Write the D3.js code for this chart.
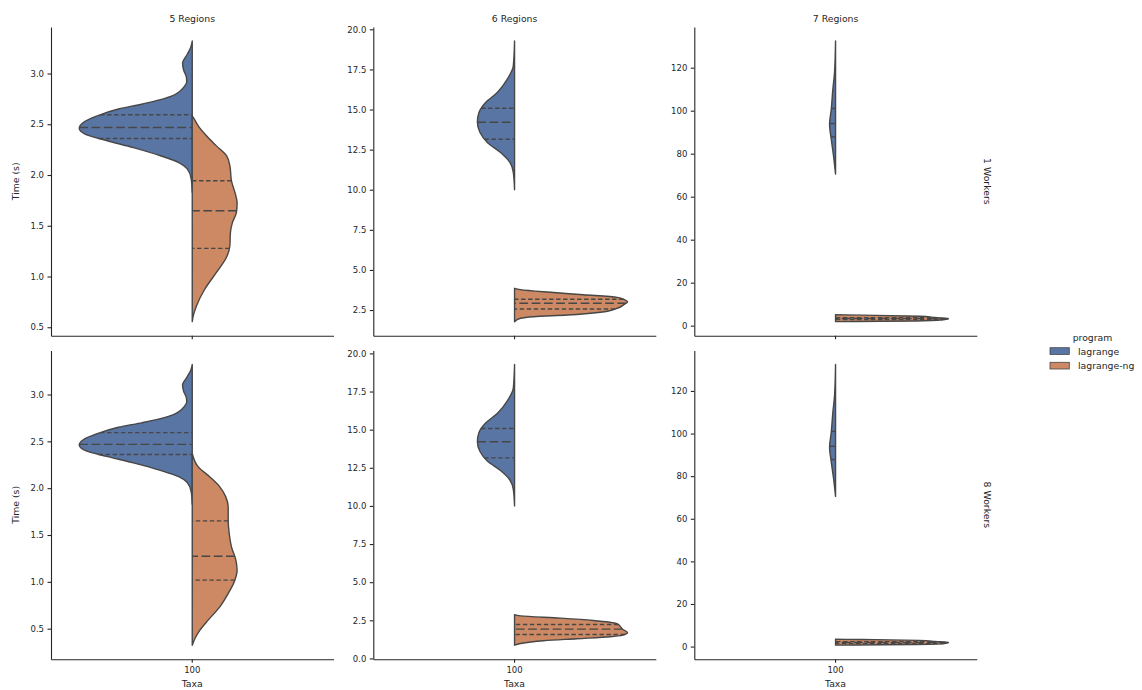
<!DOCTYPE html>
<html>
<head>
<meta charset="utf-8">
<script src="https://cdn.jsdelivr.net/npm/d3@7"></script>
<style>
  body { margin: 0; background: #fff; }
  text { font-family: "DejaVu Sans", sans-serif; fill: #262626; }
</style>
</head>
<body>
<svg id="chart" width="1142" height="690"></svg>
<script>
// Facets and categories
const regions = ["5 Regions", "6 Regions", "7 Regions"];
const workers = ["1 Workers", "8 Workers"];
const taxa = ["100"];
const programs = ["lagrange", "lagrange-ng"];
const programColors = ["#5875a4", "#cc8963"];

// Kernel density profiles: [time (s), density relative to the widest violin]
const lagrange5 = [[3.32,0],[3.26,0.013],[3.19,0.044],[3.10,0.086],[3.03,0.075],[2.97,0.053],[2.92,0.049],[2.87,0.071],[2.82,0.115],[2.78,0.177],[2.74,0.291],[2.70,0.441],[2.65,0.653],[2.58,0.847],[2.52,0.962],[2.46,1.0],[2.40,0.944],[2.34,0.759],[2.27,0.521],[2.19,0.282],[2.12,0.115],[2.06,0.044],[1.96,0.009],[1.83,0]];
const lagrangeNg5w1 = [[2.583,0],[2.55,0.018],[2.484,0.053],[2.386,0.126],[2.287,0.214],[2.19,0.303],[2.09,0.333],[1.943,0.347],[1.795,0.386],[1.73,0.397],[1.632,0.391],[1.533,0.356],[1.435,0.338],[1.303,0.333],[1.189,0.303],[1.04,0.214],[0.877,0.112],[0.713,0.038],[0.614,0.009],[0.555,0]];
const lagrangeNg5w8 = [[2.37,0],[2.227,0.053],[2.12,0.156],[2.014,0.244],[1.907,0.297],[1.80,0.318],[1.658,0.318],[1.516,0.327],[1.374,0.347],[1.232,0.386],[1.125,0.397],[1.018,0.377],[0.876,0.318],[0.733,0.244],[0.591,0.141],[0.484,0.068],[0.395,0.024],[0.324,0]];
const lagrange6 = [[19.27,0],[17.72,0.011],[16.89,0.064],[16.06,0.153],[15.44,0.256],[14.81,0.315],[14.23,0.329],[13.57,0.306],[12.95,0.241],[12.32,0.124],[11.7,0.041],[11.08,0.011],[10.0,0]];
const lagrangeNg6w1 = [[3.855,0],[3.77,0.053],[3.605,0.318],[3.455,0.609],[3.29,0.909],[3.15,0.971],[3.02,1.0],[2.85,0.971],[2.61,0.909],[2.36,0.759],[2.19,0.468],[2.086,0.168],[1.986,0.053],[1.775,0]];
const lagrangeNg6w8 = [[2.87,0],[2.79,0.053],[2.64,0.405],[2.49,0.695],[2.28,0.906],[1.90,0.959],[1.70,1.0],[1.53,0.959],[1.42,0.844],[1.29,0.551],[1.16,0.258],[0.98,0.053],[0.87,0]];
const lagrange7 = [[132.4,0],[117.7,0.009],[109.9,0.024],[100.6,0.038],[93.7,0.053],[86.7,0.038],[79.0,0.018],[70.5,0]];
const lagrangeNg7w1 = [[5.1,0],[5.0,0.088],[4.8,0.353],[4.37,0.741],[3.8,0.883],[3.25,1.0],[2.8,0.953],[2.18,0.706],[1.95,0.177],[1.86,0]];
const lagrangeNg7w8 = [[3.47,0],[3.4,0.088],[3.25,0.353],[2.9,0.741],[2.4,0.883],[1.88,1.0],[1.4,0.953],[0.95,0.706],[0.75,0.177],[0.66,0]];

// Quartiles [Q1, median, Q3]
const quartLagrange5 = [2.36, 2.468, 2.593];
const quartNg5w1 = [1.277, 1.648, 1.943];
const quartNg5w8 = [1.018, 1.274, 1.651];
const quartLagrange6 = [13.15, 14.21, 15.08];
const quartNg6w1 = [2.565, 2.92, 3.17];
const quartNg6w8 = [1.57, 1.92, 2.23];
const quartLagrange7 = [87.8, 94.0, 101.0];
const quartNg7w1 = [2.9, 3.3, 3.7];
const quartNg7w8 = [1.45, 1.9, 2.3];

// Y tick values per column
const yTicks = [
  [0.5, 1.0, 1.5, 2.0, 2.5, 3.0],
  [0.0, 2.5, 5.0, 7.5, 10.0, 12.5, 15.0, 17.5, 20.0],
  [0, 20, 40, 60, 80, 100, 120]
];
const yFormats = [".1f", ".1f", "d"];

// panels[row][col] = [[profile, quartiles] per program]
const panels = [
  [
    [[lagrange5, quartLagrange5], [lagrangeNg5w1, quartNg5w1]],
    [[lagrange6, quartLagrange6], [lagrangeNg6w1, quartNg6w1]],
    [[lagrange7, quartLagrange7], [lagrangeNg7w1, quartNg7w1]]
  ],
  [
    [[lagrange5, quartLagrange5], [lagrangeNg5w8, quartNg5w8]],
    [[lagrange6, quartLagrange6], [lagrangeNg6w8, quartNg6w8]],
    [[lagrange7, quartLagrange7], [lagrangeNg7w8, quartNg7w8]]
  ]
];

// Layout
const colLeft = [51, 373.3, 694.3];
const rowTop = [27, 350.5];
const W = 282.5, H = 308.7;
const lineGray = "#474747";
const axisColor = "#262626";

const svg = d3.select("#chart");

panels.forEach((rowPanels, r) => {
  rowPanels.forEach((series, c) => {
    const g = svg.append("g").attr("transform", `translate(${colLeft[c]},${rowTop[r]})`);

    const x = d3.scaleBand().domain(taxa).range([0, W]).padding(0);
    const center = x(taxa[0]) + x.bandwidth() / 2;
    const half = 0.4 * x.bandwidth();

    const allVals = series.flatMap(s => s[0].map(d => d[0]));
    const lo = d3.min(allVals), hi = d3.max(allVals);
    const pad = (hi - lo) * 0.05;
    const y = d3.scaleLinear().domain([lo - pad, hi + pad]).range([H, 0]);

    series.forEach(([profile, quarts], i) => {
      const side = i === 0 ? -1 : 1;
      const pts = profile.slice().sort((a, b) => b[0] - a[0]);
      const edgeX = d => center + side * half * d[1];

      const area = d3.area()
        .curve(d3.curveMonotoneY)
        .y(d => y(d[0]))
        .x0(center)
        .x1(edgeX);

      g.append("path")
        .attr("d", area(pts))
        .attr("fill", programColors[i])
        .attr("stroke", lineGray)
        .attr("stroke-width", 1.4)
        .attr("stroke-linejoin", "round");

      // sample the outer edge so quartile lines end on the outline
      const edgePath = g.append("path")
        .attr("d", d3.line().curve(d3.curveMonotoneY).x(edgeX).y(d => y(d[0]))(pts))
        .attr("fill", "none").attr("stroke", "none");
      const node = edgePath.node();
      const len = node.getTotalLength();
      const samples = [];
      for (let s = 0; s <= len; s += 0.25) samples.push(node.getPointAtLength(s));
      edgePath.remove();

      quarts.forEach((q, k) => {
        const yq = y(q);
        const nearest = d3.least(samples, p => Math.abs(p.y - yq));
        const xe = nearest ? nearest.x : center;
        g.append("line")
          .attr("x1", xe).attr("x2", center)
          .attr("y1", yq).attr("y2", yq)
          .attr("stroke", lineGray)
          .attr("stroke-width", 1.4)
          .attr("stroke-dasharray", k === 1 ? "8.75,3.5" : "4.4,2.6");
      });
    });

    // axes
    const ticks = yTicks[c].filter(t => t >= y.domain()[0] && t <= y.domain()[1]);
    const yAxis = g.append("g")
      .call(d3.axisLeft(y).tickValues(ticks).tickFormat(d3.format(yFormats[c]))
        .tickSize(3.5).tickSizeOuter(0).tickPadding(3.5));
    const xAxis = g.append("g").attr("transform", `translate(0,${H})`)
      .call(d3.axisBottom(x).tickSize(3.5).tickSizeOuter(0).tickPadding(4)
        .tickFormat(r === 1 ? (d => d) : () => ""));
    [yAxis, xAxis].forEach(a => {
      a.select(".domain").attr("stroke", axisColor).attr("stroke-width", 1.1);
      a.selectAll(".tick line").attr("stroke", axisColor).attr("stroke-width", 1.1);
      a.selectAll(".tick text").attr("font-size", "8.5px")
        .attr("font-family", "DejaVu Sans, sans-serif").attr("fill", "#262626");
    });

    if (r === 0) {
      g.append("text").attr("x", W / 2).attr("y", -5)
        .attr("text-anchor", "middle").attr("font-size", "9.3px").text(regions[c]);
    }
    if (r === 1) {
      g.append("text").attr("x", W / 2).attr("y", H + 28)
        .attr("text-anchor", "middle").attr("font-size", "9.3px").text("Taxa");
    }
    if (c === 0) {
      g.append("text")
        .attr("transform", `translate(${-32},${H / 2}) rotate(-90)`)
        .attr("text-anchor", "middle").attr("font-size", "9.3px").text("Time (s)");
    }
    if (c === 2) {
      g.append("text")
        .attr("transform", `translate(${W + 11},${H / 2}) rotate(90)`)
        .attr("text-anchor", "middle").attr("dominant-baseline", "central")
        .attr("font-size", "9.3px").text(workers[r]);
    }
  });
});

// Legend
const legend = svg.append("g").attr("transform", "translate(1050,332)");
legend.append("text").attr("x", 42.5).attr("y", 8.5)
  .attr("text-anchor", "middle").attr("font-size", "9.3px").text("program");
programs.forEach((p, i) => {
  const row = legend.append("g").attr("transform", `translate(0,${15.7 + i * 14.6})`);
  row.append("rect").attr("width", 19.3).attr("height", 6.7)
    .attr("fill", programColors[i]).attr("stroke", lineGray).attr("stroke-width", 0.8);
  row.append("text").attr("x", 28).attr("y", 3.4).attr("dominant-baseline", "central")
    .attr("font-size", "9.3px").text(p);
});
</script>
</body>
</html>
